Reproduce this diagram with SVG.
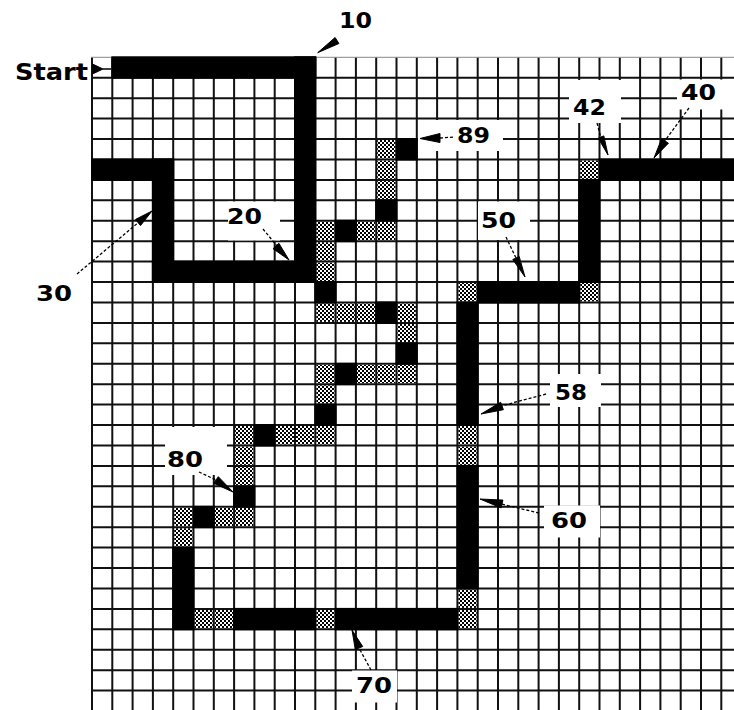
<svg xmlns="http://www.w3.org/2000/svg" width="734" height="710" viewBox="0 0 734 710">
<style>
.grid{stroke:#111;stroke-width:2;fill:none}
.blk{fill:#000}
.sh{fill:url(#dots)}
.box{fill:#fff}
.lbl{font-family:"DejaVu Sans","Liberation Sans",sans-serif;font-size:22px;font-weight:bold;fill:#000}
.st{font-family:"DejaVu Sans","Liberation Sans",sans-serif;font-size:23px;font-weight:bold;fill:#000}
.ln{stroke:#000;stroke-width:1.3;fill:none;stroke-dasharray:3 2}
.hd{fill:#000;stroke:#000;stroke-width:1}
</style>
<defs>
<pattern id="dots" width="4" height="4" patternUnits="userSpaceOnUse">
<rect width="4" height="4" fill="#fff"/>
<rect x="0" y="0" width="2" height="2" fill="#000"/>
<rect x="2" y="2" width="2" height="2" fill="#000"/>
</pattern>
</defs>
<rect width="734" height="710" fill="#fff"/>
<g id="shaded">
<rect class="sh" x="377.2" y="140" width="18.3" height="18.5"/>
<rect class="sh" x="377.2" y="160.5" width="18.3" height="18.4"/>
<rect class="sh" x="377.2" y="180.9" width="18.3" height="18.4"/>
<rect class="sh" x="316.3" y="221.7" width="18.3" height="18.5"/>
<rect class="sh" x="356.9" y="221.7" width="18.3" height="18.5"/>
<rect class="sh" x="377.2" y="221.7" width="18.3" height="18.5"/>
<rect class="sh" x="316.3" y="242.2" width="18.3" height="18.4"/>
<rect class="sh" x="316.3" y="262.6" width="18.3" height="18.4"/>
<rect class="sh" x="458.4" y="283" width="18.3" height="18.5"/>
<rect class="sh" x="580.2" y="283" width="18.3" height="18.5"/>
<rect class="sh" x="580.2" y="160.5" width="18.3" height="18.4"/>
<rect class="sh" x="316.3" y="303.5" width="18.3" height="18.4"/>
<rect class="sh" x="336.6" y="303.5" width="18.3" height="18.4"/>
<rect class="sh" x="356.9" y="303.5" width="18.3" height="18.4"/>
<rect class="sh" x="397.5" y="303.5" width="18.3" height="18.4"/>
<rect class="sh" x="397.5" y="323.9" width="18.3" height="18.4"/>
<rect class="sh" x="316.3" y="364.8" width="18.3" height="18.4"/>
<rect class="sh" x="356.9" y="364.8" width="18.3" height="18.4"/>
<rect class="sh" x="377.2" y="364.8" width="18.3" height="18.4"/>
<rect class="sh" x="397.5" y="364.8" width="18.3" height="18.4"/>
<rect class="sh" x="316.3" y="385.2" width="18.3" height="18.4"/>
<rect class="sh" x="235.1" y="426" width="18.3" height="18.5"/>
<rect class="sh" x="275.7" y="426" width="18.3" height="18.5"/>
<rect class="sh" x="296" y="426" width="18.3" height="18.5"/>
<rect class="sh" x="316.3" y="426" width="18.3" height="18.5"/>
<rect class="sh" x="458.4" y="426" width="18.3" height="18.5"/>
<rect class="sh" x="458.4" y="446.5" width="18.3" height="18.4"/>
<rect class="sh" x="235.1" y="446.5" width="18.3" height="18.4"/>
<rect class="sh" x="235.1" y="466.9" width="18.3" height="18.4"/>
<rect class="sh" x="174.2" y="507.8" width="18.3" height="18.4"/>
<rect class="sh" x="214.8" y="507.8" width="18.3" height="18.4"/>
<rect class="sh" x="235.1" y="507.8" width="18.3" height="18.4"/>
<rect class="sh" x="174.2" y="528.2" width="18.3" height="18.4"/>
<rect class="sh" x="194.5" y="609.9" width="18.3" height="18.4"/>
<rect class="sh" x="214.8" y="609.9" width="18.3" height="18.4"/>
<rect class="sh" x="316.3" y="609.9" width="18.3" height="18.4"/>
<rect class="sh" x="458.4" y="589.5" width="18.3" height="18.4"/>
<rect class="sh" x="458.4" y="609.9" width="18.3" height="18.4"/>
</g>
<g id="grid">
<path class="grid" d="M92 57.3V710M112.3 57.3V710M132.6 57.3V710M152.9 57.3V710M173.2 57.3V710M193.5 57.3V710M213.8 57.3V710M234.1 57.3V710M254.4 57.3V710M274.7 57.3V710M295 57.3V710M315.3 57.3V710M335.6 57.3V710M355.9 57.3V710M376.2 57.3V710M396.5 57.3V710M416.8 57.3V710M437.1 57.3V710M457.4 57.3V710M477.7 57.3V710M498 57.3V710M518.3 57.3V710M538.6 57.3V710M558.9 57.3V710M579.2 57.3V710M599.5 57.3V710M619.8 57.3V710M640.1 57.3V710M660.4 57.3V710M680.7 57.3V710M701 57.3V710M721.3 57.3V710"/>
<path class="grid" d="M91 77.7H734M91 98.2H734M91 118.6H734M91 139H734M91 159.5H734M91 179.9H734M91 200.3H734M91 220.7H734M91 241.2H734M91 261.6H734M91 282H734M91 302.5H734M91 322.9H734M91 343.3H734M91 363.8H734M91 384.2H734M91 404.6H734M91 425H734M91 445.5H734M91 465.9H734M91 486.3H734M91 506.8H734M91 527.2H734M91 547.6H734M91 568H734M91 588.5H734M91 608.9H734M91 629.3H734M91 649.8H734M91 670.2H734M91 690.6H734"/>
<path d="M91 57.3H734" stroke="#888" stroke-width="1"/>
</g>
<g id="label-boxes">
<rect class="box" x="418" y="120" width="85" height="31"/>
<rect class="box" x="569" y="80" width="52" height="43"/>
<rect class="box" x="677" y="79.5" width="57" height="30"/>
<rect class="box" x="228" y="201.5" width="52" height="39"/>
<rect class="box" x="478" y="201.5" width="52" height="38.5"/>
<rect class="box" x="550" y="374" width="51" height="33"/>
<rect class="box" x="544" y="505.5" width="56" height="32"/>
<rect class="box" x="165" y="427" width="62" height="48"/>
<rect class="box" x="352" y="670.5" width="45" height="32"/>
</g>
<g id="path">
<rect class="blk" x="111.3" y="56.3" width="205" height="22.4"/>
<rect class="blk" x="294" y="56.3" width="22.3" height="226.7"/>
<rect class="blk" x="151.9" y="260.6" width="164.4" height="22.4"/>
<rect class="blk" x="91" y="158.5" width="83.2" height="22.4"/>
<rect class="blk" x="151.9" y="158.5" width="22.3" height="124.5"/>
<rect class="blk" x="598.5" y="158.5" width="136" height="22.4"/>
<rect class="blk" x="578.2" y="178.9" width="22.3" height="104.1"/>
<rect class="blk" x="476.7" y="281" width="103.5" height="22.5"/>
<rect class="blk" x="456.4" y="301.5" width="22.3" height="124.5"/>
<rect class="blk" x="456.4" y="464.9" width="22.3" height="124.6"/>
<rect class="blk" x="233.1" y="607.9" width="83.2" height="22.4"/>
<rect class="blk" x="334.6" y="607.9" width="123.8" height="22.4"/>
<rect class="blk" x="172.2" y="546.6" width="22.3" height="83.7"/>
<rect class="blk" x="395.5" y="138" width="22.3" height="22.5"/>
<rect class="blk" x="375.2" y="199.3" width="22.3" height="22.4"/>
<rect class="blk" x="334.6" y="219.7" width="22.3" height="22.5"/>
<rect class="blk" x="314.3" y="281" width="22.3" height="22.5"/>
<rect class="blk" x="375.2" y="301.5" width="22.3" height="22.4"/>
<rect class="blk" x="395.5" y="342.3" width="22.3" height="22.5"/>
<rect class="blk" x="334.6" y="362.8" width="22.3" height="22.4"/>
<rect class="blk" x="314.3" y="403.6" width="22.3" height="22.4"/>
<rect class="blk" x="253.4" y="424" width="22.3" height="22.5"/>
<rect class="blk" x="233.1" y="485.3" width="22.3" height="22.5"/>
<rect class="blk" x="192.5" y="505.8" width="22.3" height="22.4"/>
</g>
<g id="connectors">
<polygon class="hd" points="92.5,64 92.5,74 103,69"/>
<line x1="103" y1="69" x2="111" y2="69" stroke="#000" stroke-width="1.5"/>
<polygon class="hd" points="317.7,52.7 338.9,43.5 335.1,37.5"/>
<polygon class="hd" points="420,138.5 440,133.5 440,142.5"/>
<path class="ln" d="M440 138L455 137"/>
<polygon class="hd" points="608,155 603.8,135.9 598.2,138.1"/>
<path class="ln" d="M597 123L601 138"/>
<polygon class="hd" points="654,158 668.4,143.2 661.6,138.8"/>
<path class="ln" d="M689 108L664 142"/>
<polygon class="hd" points="152,211 140.5,225.6 135.5,219.4"/>
<path class="ln" d="M77 274L139 222"/>
<polygon class="hd" points="289,260 278.9,243.3 273.1,248.7"/>
<path class="ln" d="M263 229L277 246"/>
<polygon class="hd" points="525,277 519.2,256.5 512.8,259.5"/>
<path class="ln" d="M506 237L516 258"/>
<polygon class="hd" points="481,414 503.4,409.7 500.6,402.3"/>
<path class="ln" d="M546 394L501 406"/>
<polygon class="hd" points="480,499 501.1,507.9 502.9,500.1"/>
<path class="ln" d="M539 513L501 504"/>
<polygon class="hd" points="233,492 218.3,476.7 213.7,483.3"/>
<path class="ln" d="M199 472L216 480"/>
<polygon class="hd" points="352,630 355.3,649.5 362.7,646.5"/>
<path class="ln" d="M371 670L359 648"/>
</g>
<g id="labels">
<text class="st" x="15" y="80" textLength="73" lengthAdjust="spacingAndGlyphs">Start</text>
<text class="lbl" x="339" y="28" textLength="33" lengthAdjust="spacingAndGlyphs">10</text>
<text class="lbl" x="457" y="143" textLength="33" lengthAdjust="spacingAndGlyphs">89</text>
<text class="lbl" x="573" y="115" textLength="33" lengthAdjust="spacingAndGlyphs">42</text>
<text class="lbl" x="681" y="100" textLength="35" lengthAdjust="spacingAndGlyphs">40</text>
<text class="lbl" x="227" y="224" textLength="35" lengthAdjust="spacingAndGlyphs">20</text>
<text class="lbl" x="36" y="301" textLength="36" lengthAdjust="spacingAndGlyphs">30</text>
<text class="lbl" x="481" y="228" textLength="35" lengthAdjust="spacingAndGlyphs">50</text>
<text class="lbl" x="555" y="400" textLength="32" lengthAdjust="spacingAndGlyphs">58</text>
<text class="lbl" x="551" y="528" textLength="36" lengthAdjust="spacingAndGlyphs">60</text>
<text class="lbl" x="167" y="467" textLength="36" lengthAdjust="spacingAndGlyphs">80</text>
<text class="lbl" x="356" y="693" textLength="36" lengthAdjust="spacingAndGlyphs">70</text>
</g>
</svg>
